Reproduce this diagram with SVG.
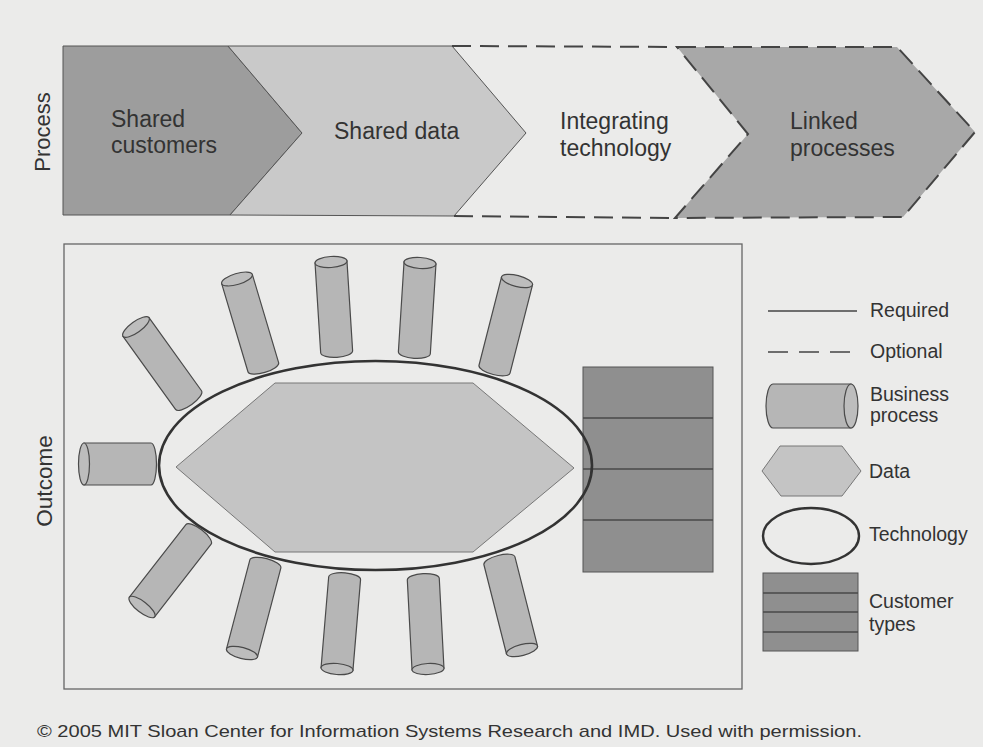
<svg xmlns="http://www.w3.org/2000/svg" width="983" height="747" viewBox="0 0 983 747">
<style>
text{font-family:"Liberation Sans",Arial,Helvetica,sans-serif;fill:#333}
.lbl{font-size:23px}
.leg{font-size:19.5px}
.cyl path{fill:#b6b6b6;stroke:#4a4a4a;stroke-width:1.2}
.cyl ellipse{fill:#bdbdbd;stroke:#4a4a4a;stroke-width:1.2}
.dash{stroke-dasharray:19 9}
</style>
<rect width="983" height="747" fill="#ebebea"/>
<g id="process-bar">
<g id="shared-customers">
<polygon points="63,46 228,46 302,133 230,215 63,215" fill="#9d9d9d" stroke="#555" stroke-width="1"/>
<text class="lbl" x="111" y="127">Shared</text>
<text class="lbl" x="111" y="153">customers</text>
</g>
<g id="shared-data">
<polygon points="228,46 452,46 526,133 454,216 230,215 302,133" fill="#c9c9c9" stroke="#555" stroke-width="1"/>
<text class="lbl" x="334" y="139">Shared data</text>
</g>
<g id="integrating-technology">
<polyline points="452,46 677,47" fill="none" stroke="#444" stroke-width="2" class="dash"/>
<polyline points="454,216 675,218" fill="none" stroke="#444" stroke-width="2" class="dash"/>
<text class="lbl" x="560" y="129">Integrating</text>
<text class="lbl" x="560" y="156">technology</text>
</g>
<g id="linked-processes">
<polygon points="677,47 897,47 975,132 903,217 675,218 748,134" fill="#a8a8a8" stroke="#444" stroke-width="2" class="dash"/>
<text class="lbl" x="790" y="129">Linked</text>
<text class="lbl" x="790" y="156">processes</text>
</g>
<text transform="translate(50,132) rotate(-90)" text-anchor="middle" style="font-size:22px">Process</text>
</g>
<g id="outcome">
<rect x="64" y="244" width="678" height="445" fill="none" stroke="#666" stroke-width="1.3"/>
<text transform="translate(52,481) rotate(-90)" text-anchor="middle" style="font-size:22.5px">Outcome</text>
<g id="customer-types-main">
<rect x="583" y="367" width="130" height="205" fill="#8f8f8f" stroke="#555" stroke-width="1"/>
<path d="M583,418H713M583,469H713M583,520H713" stroke="#4a4a4a" stroke-width="1.5"/>
</g>
<g id="data-main">
<polygon points="275,383 473,383 574,468 473,552 275,552 176,467" fill="#c4c4c4" stroke="#777" stroke-width="1"/>
</g>
<g id="business-processes" class="cyl">
<g transform="translate(136,327) rotate(-35.7)"><path d="M-16,0V90A16,5.5 0 0 0 16,90V0Z"/><ellipse rx="16" ry="5.5"/></g>
<g transform="translate(237,279) rotate(-16.6)"><path d="M-16,0V92A16,5.5 0 0 0 16,92V0Z"/><ellipse rx="16" ry="5.5"/></g>
<g transform="translate(331,262) rotate(-3.6)"><path d="M-16,0V90A16,5.5 0 0 0 16,90V0Z"/><ellipse rx="16" ry="5.5"/></g>
<g transform="translate(420,263) rotate(3.6)"><path d="M-16,0V90A16,5.5 0 0 0 16,90V0Z"/><ellipse rx="16" ry="5.5"/></g>
<g transform="translate(517,281) rotate(14.3)"><path d="M-16,0V91A16,5.5 0 0 0 16,91V0Z"/><ellipse rx="16" ry="5.5"/></g>
<g transform="translate(84,464) rotate(-90)"><path d="M-21,0V67A21,5.5 0 0 0 21,67V0Z"/><ellipse rx="21" ry="5.5"/></g>
<g transform="translate(142,607) rotate(-142.1)"><path d="M-16,0V92A16,5.5 0 0 0 16,92V0Z"/><ellipse rx="16" ry="5.5"/></g>
<g transform="translate(242,653) rotate(-165.3)"><path d="M-16,0V92A16,5.5 0 0 0 16,92V0Z"/><ellipse rx="16" ry="5.5"/></g>
<g transform="translate(337,669) rotate(-175.2)"><path d="M-16,0V91A16,5.5 0 0 0 16,91V0Z"/><ellipse rx="16" ry="5.5"/></g>
<g transform="translate(428,669) rotate(177)"><path d="M-16,0V90A16,5.5 0 0 0 16,90V0Z"/><ellipse rx="16" ry="5.5"/></g>
<g transform="translate(522,650) rotate(165.8)"><path d="M-16,0V92A16,5.5 0 0 0 16,92V0Z"/><ellipse rx="16" ry="5.5"/></g>
</g>
<g id="technology-main">
<ellipse cx="375.5" cy="465.5" rx="216.5" ry="104.5" fill="none" stroke="#333" stroke-width="2.6"/>
</g>
</g>
<g id="legend">
<g id="legend-required">
<line x1="768" y1="311" x2="857" y2="311" stroke="#444" stroke-width="1.3"/>
<text class="leg" x="870" y="317">Required</text>
</g>
<g id="legend-optional">
<line x1="768" y1="352" x2="857" y2="352" stroke="#444" stroke-width="1.3" stroke-dasharray="20 11"/>
<text class="leg" x="870" y="358">Optional</text>
</g>
<g id="legend-business-process" class="cyl">
<g transform="translate(851,406) rotate(90)"><path d="M-22,0V78A22,7 0 0 0 22,78V0Z"/><ellipse rx="22" ry="7"/></g>
<text class="leg" x="870" y="401">Business</text>
<text class="leg" x="870" y="422">process</text>
</g>
<g id="legend-data">
<polygon points="780,446 842,446 861,471 842,496 781,496 762,471" fill="#c4c4c4" stroke="#777" stroke-width="1"/>
<text class="leg" x="869" y="478">Data</text>
</g>
<g id="legend-technology">
<ellipse cx="811" cy="536" rx="48" ry="28" fill="none" stroke="#333" stroke-width="2.4"/>
<text class="leg" x="869" y="541">Technology</text>
</g>
<g id="legend-customer-types">
<rect x="763" y="573" width="95" height="78" fill="#8f8f8f" stroke="#555" stroke-width="1"/>
<path d="M763,593H858M763,612H858M763,632H858" stroke="#4a4a4a" stroke-width="1.3"/>
<text class="leg" x="869" y="608">Customer</text>
<text class="leg" x="869" y="631">types</text>
</g>
</g>
<text x="37" y="737" style="font-size:17px" textLength="825" lengthAdjust="spacingAndGlyphs">© 2005 MIT Sloan Center for Information Systems Research and IMD. Used with permission.</text>
</svg>
